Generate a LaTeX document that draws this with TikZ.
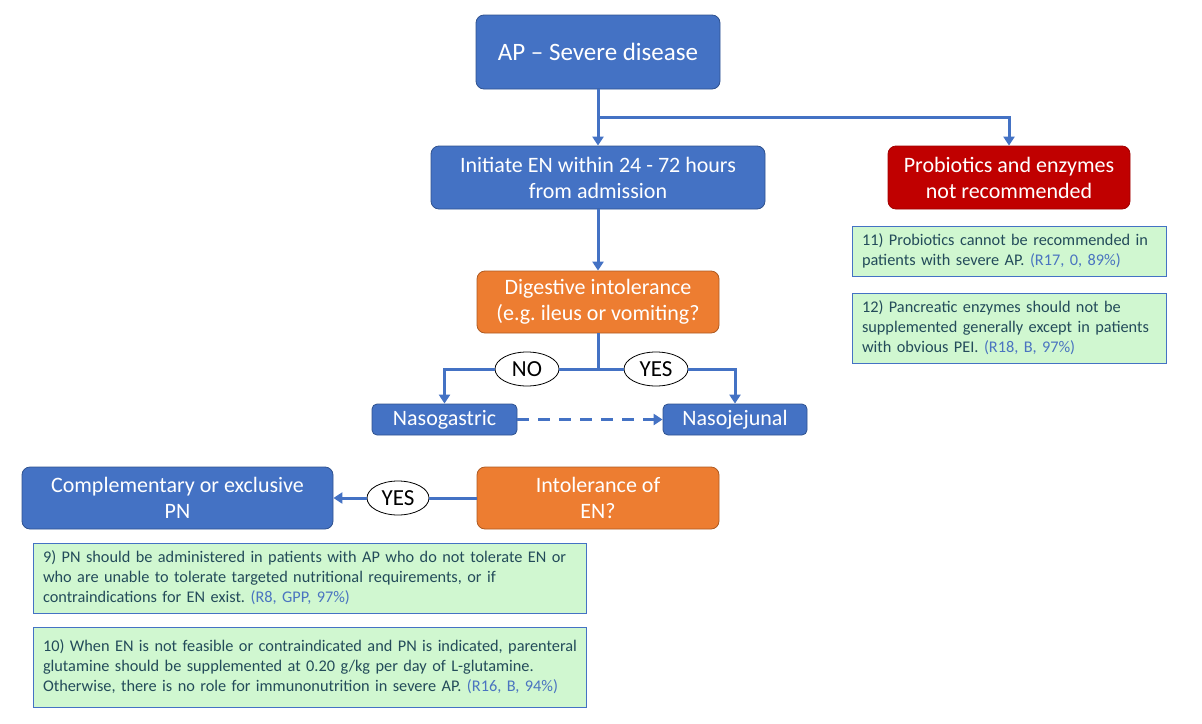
\documentclass[tikz,border=0pt]{standalone}
\usepackage{fontspec}
\setmainfont{Carlito}
\usetikzlibrary{arrows.meta,shapes.geometric}
\definecolor{bblue}{HTML}{4472C4}
\definecolor{bborder}{HTML}{2F528F}
\definecolor{borange}{HTML}{ED7D31}
\definecolor{oborder}{HTML}{AE5A21}
\definecolor{bred}{HTML}{C00000}
\definecolor{rborder}{HTML}{A00000}
\definecolor{gfill}{RGB}{208,247,208}
\definecolor{gtext}{HTML}{234B5A}
\definecolor{gref}{HTML}{4A74C0}
\frenchspacing
\tikzset{
  box/.style={rounded corners=8pt, draw, line width=0.8pt, text=white, align=center, inner sep=2pt, font=\fontsize{22}{26}\selectfont},
  bluebox/.style={box, fill=bblue, draw=bborder},
  orangebox/.style={box, fill=borange, draw=oborder},
  redbox/.style={box, fill=bred, draw=rborder},
  greenbox/.style={draw=bblue, line width=0.8pt, fill=gfill, text=gtext, align=left, inner xsep=10pt, inner ysep=4pt, font=\fontsize{16.3}{20}\selectfont\frenchspacing, anchor=center},
  lab/.style={ellipse, draw=black, line width=0.8pt, fill=white, inner sep=0pt, minimum width=64pt, minimum height=34pt, font=\fontsize{23}{26}\selectfont},
  conn/.style={draw=bblue, line width=3pt},
  arr/.style={conn, -{Triangle[length=9pt,width=11pt]}},
}
\newcommand{\gref}[1]{{\color{gref}#1}}
\begin{document}
\begin{tikzpicture}[x=1pt,y=-1pt]
\useasboundingbox (0,0) rectangle (1202,723);
\node[bluebox, minimum width=244pt, minimum height=74pt, font=\fontsize{25}{29}\selectfont] (top) at (598,52) {AP -- Severe disease};
\node[bluebox, minimum width=334pt, minimum height=63pt] (init) at (598,177.5) {Initiate EN within 24 - 72 hours\\from admission};
\node[redbox, minimum width=242pt, minimum height=63pt] (prob) at (1009,177.5) {Probiotics and enzymes\\not recommended};
\node[greenbox, text width=294pt, minimum height=50pt] (g11) at (1009,251) {\mbox{11) Probiotics cannot be recommended in}\\\mbox{patients with severe AP. \gref{(R17, 0, 89\%)}}};
\node[greenbox, text width=294pt, minimum height=70pt] (g12) at (1009,328) {\mbox{12) Pancreatic enzymes should not be}\\\mbox{supplemented generally except in patients}\\\mbox{with obvious PEI. \gref{(R18, B, 97\%)}}};
\node[orangebox, minimum width=242pt, minimum height=62pt] (dig) at (598,302) {Digestive intolerance\\(e.g. ileus or vomiting?};
\node[lab] (no) at (527,369) {NO};
\node[lab] (yes1) at (656,369) {YES};
\node[bluebox, minimum width=145pt, minimum height=31pt, rounded corners=5pt] (ng) at (444.5,419.5) {Nasogastric};
\node[bluebox, minimum width=144pt, minimum height=31pt, rounded corners=5pt] (nj) at (735,419.5) {Nasojejunal};
\node[bluebox, minimum width=311pt, minimum height=62pt] (comp) at (177.5,498) {Complementary or exclusive\\PN};
\node[orangebox, minimum width=242pt, minimum height=62pt] (intol) at (598,498) {Intolerance of\\EN?};
\node[lab, minimum width=62pt] (yes2) at (398,498) {YES};
\node[greenbox, text width=533pt, minimum height=70pt] (g9) at (309.5,578) {\mbox{9) PN should be administered in patients with AP who do not tolerate EN or}\\\mbox{who are unable to tolerate targeted nutritional requirements, or if}\\\mbox{contraindications for EN exist. \gref{(R8, GPP, 97\%)}}};
\node[greenbox, text width=533pt, minimum height=80pt] (g10) at (309.5,667) {\mbox{10) When EN is not feasible or contraindicated and PN is indicated, parenteral}\\\mbox{glutamine should be supplemented at 0.20 g/kg per day of L-glutamine.}\\\mbox{Otherwise, there is no role for immunonutrition in severe AP. \gref{(R16, B, 94\%)}}};
\coordinate (br) at (598,117);
\coordinate (split) at (598,369);
\draw[arr] (top.south) -- (init.north);
\draw[arr] (br) -| (prob.north);
\draw[arr] (init.south) -- (dig.north);
\draw[conn] (dig.south) -- (split);
\draw[conn] (split) -- (no.east);
\draw[conn] (split) -- (yes1.west);
\draw[arr] (no.west) -| (ng.north);
\draw[arr] (yes1.east) -| (nj.north);
\draw[arr, dash pattern=on 12pt off 9pt] (ng.east) -- (nj.west);
\draw[conn] (intol.west) -- (yes2.east);
\draw[arr] (yes2.west) -- (comp.east);
\end{tikzpicture}
\end{document}
